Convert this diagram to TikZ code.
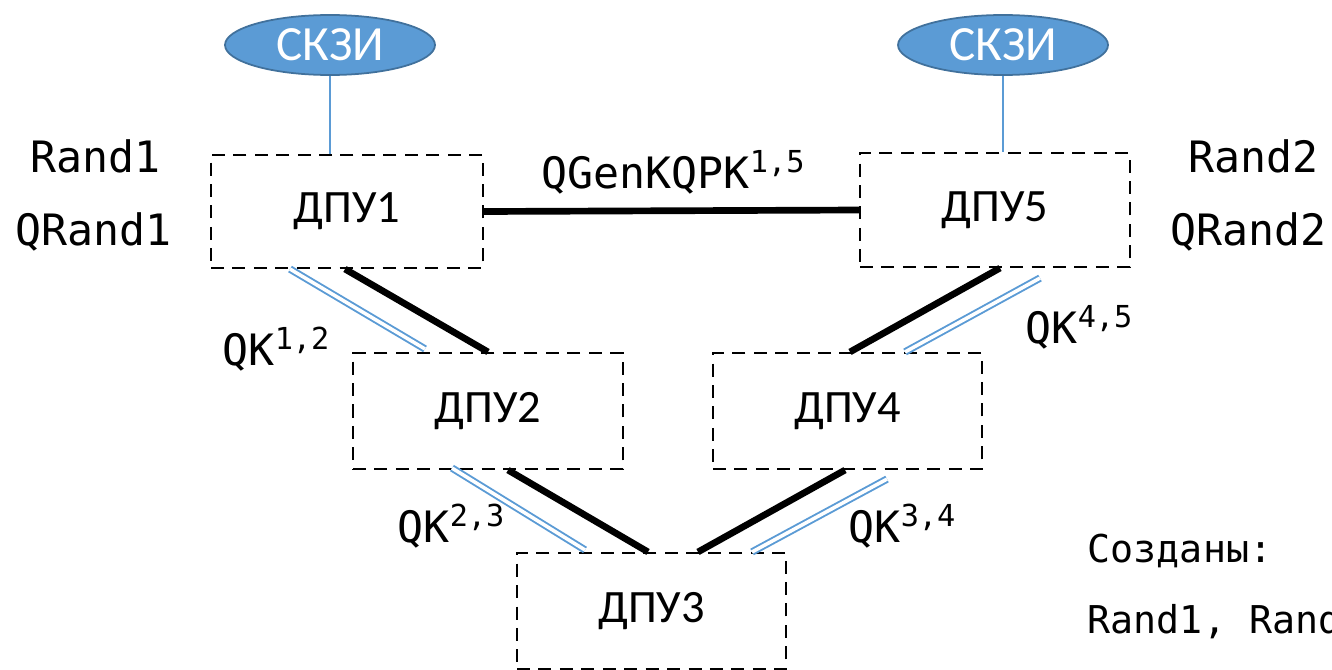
\documentclass[tikz,border=0pt]{standalone}
\usepackage{fontspec}
\setmainfont{Carlito}
\newfontfamily\monofnt{DejaVu Sans Mono}
\usepackage{tikz}
\usetikzlibrary{shapes.geometric}
\usetikzlibrary{positioning}
\definecolor{qblue}{RGB}{91,155,213}
\definecolor{qedge}{RGB}{65,113,156}
\tikzstyle{dpu}=[draw, dash pattern=on 3.7pt off 2.4pt, line width=0.6pt, minimum width=2.7cm, minimum height=1.15cm, inner sep=0pt, font=\fontsize{13.2}{16}\selectfont]
\tikzstyle{skzi}=[ellipse, draw=qedge, fill=qblue, line width=0.5pt, minimum width=2.1cm, minimum height=0.6cm, inner sep=0pt, text=white, font=\fontsize{14}{17}\selectfont]
\tikzstyle{klink}=[line width=1.9pt]
\tikzstyle{qlink}=[draw=qblue, double=white, line width=0.55pt, double distance=1pt]
\tikzstyle{lbl}=[anchor=base west, inner sep=0pt, font=\monofnt\fontsize{12.3}{14}\selectfont]

\begin{document}
\begin{tikzpicture}
	\useasboundingbox (0,0) rectangle (13.32,6.69);
	\clip (0,0) rectangle (13.32,6.69);
	\node [dpu, minimum width=2.72cm, minimum height=1.13cm] (d1) at (3.47, 4.575) {ДПУ1};
	\node [dpu, minimum height=1.14cm] (d5) at (9.95, 4.59) {ДПУ5};
	\node [dpu, minimum height=1.16cm] (d2) at (4.88, 2.58) {ДПУ2};
	\node [dpu, minimum width=2.69cm, minimum height=1.16cm] (d4) at (8.475, 2.58) {ДПУ4};
	\node [dpu, minimum width=2.69cm, minimum height=1.16cm] (d3) at (6.515, 0.58) {ДПУ3};
	\node [skzi] (e1) at (3.30, 6.24) {СКЗИ};
	\node [skzi] (e5) at (10.03, 6.24) {СКЗИ};
	\draw [qblue, line width=0.8pt] (e1.south) to (e1.south |- d1.north);
	\draw [qblue, line width=0.8pt] (e5.south) to (e5.south |- d5.north);
	\draw [klink] (d1.east) to (d5.west);
	\draw [klink] ([xshift=-0.02cm]d1.south) to (d2.north);
	\draw [qlink] ([xshift=-0.57cm]d1.south) to ([xshift=-0.63cm, yshift=0.03cm]d2.north);
	\draw [klink] ([xshift=0.05cm]d5.south) to ([xshift=0.025cm]d4.north);
	\draw [qlink] ([xshift=0.45cm, yshift=-0.1cm]d5.south) to ([xshift=0.575cm]d4.north);
	\draw [klink] ([xshift=0.2cm]d2.south) to ([xshift=-0.035cm]d3.north);
	\draw [qlink] ([xshift=-0.36cm, yshift=0.02cm]d2.south) to ([xshift=-0.665cm, yshift=0.02cm]d3.north);
	\draw [klink] ([xshift=-0.025cm]d4.south) to ([xshift=0.465cm]d3.north);
	\draw [qlink] ([xshift=0.395cm, yshift=-0.09cm]d4.south) to ([xshift=1.005cm]d3.north);
	\node [lbl] (r1) at (0.30, 4.97) {Rand1};
	\node [lbl] (q1) at (0.15, 4.24) {QRand1};
	\node [lbl] (r2) at (11.88, 4.97) {Rand2};
	\node [lbl] (q2) at (11.70, 4.24) {QRand2};
	\node [lbl] (gen) at (5.41, 4.81) {QGenKQPK\textsuperscript{1,5}};
	\node [lbl] (k12) at (2.22, 3.04) {QK\textsuperscript{1,2}};
	\node [lbl] (k45) at (10.25, 3.26) {QK\textsuperscript{4,5}};
	\node [lbl] (k23) at (3.97, 1.27) {QK\textsuperscript{2,3}};
	\node [lbl] (k34) at (8.48, 1.27) {QK\textsuperscript{3,4}};
	\node [lbl, font=\monofnt\fontsize{10.9}{13}\selectfont] (made) at (10.87, 1.07) {Созданы:};
	\node [lbl, font=\monofnt\fontsize{10.9}{13}\selectfont] (list) at (10.87, 0.36) {Rand1, Rand2};
\end{tikzpicture}
\end{document}
